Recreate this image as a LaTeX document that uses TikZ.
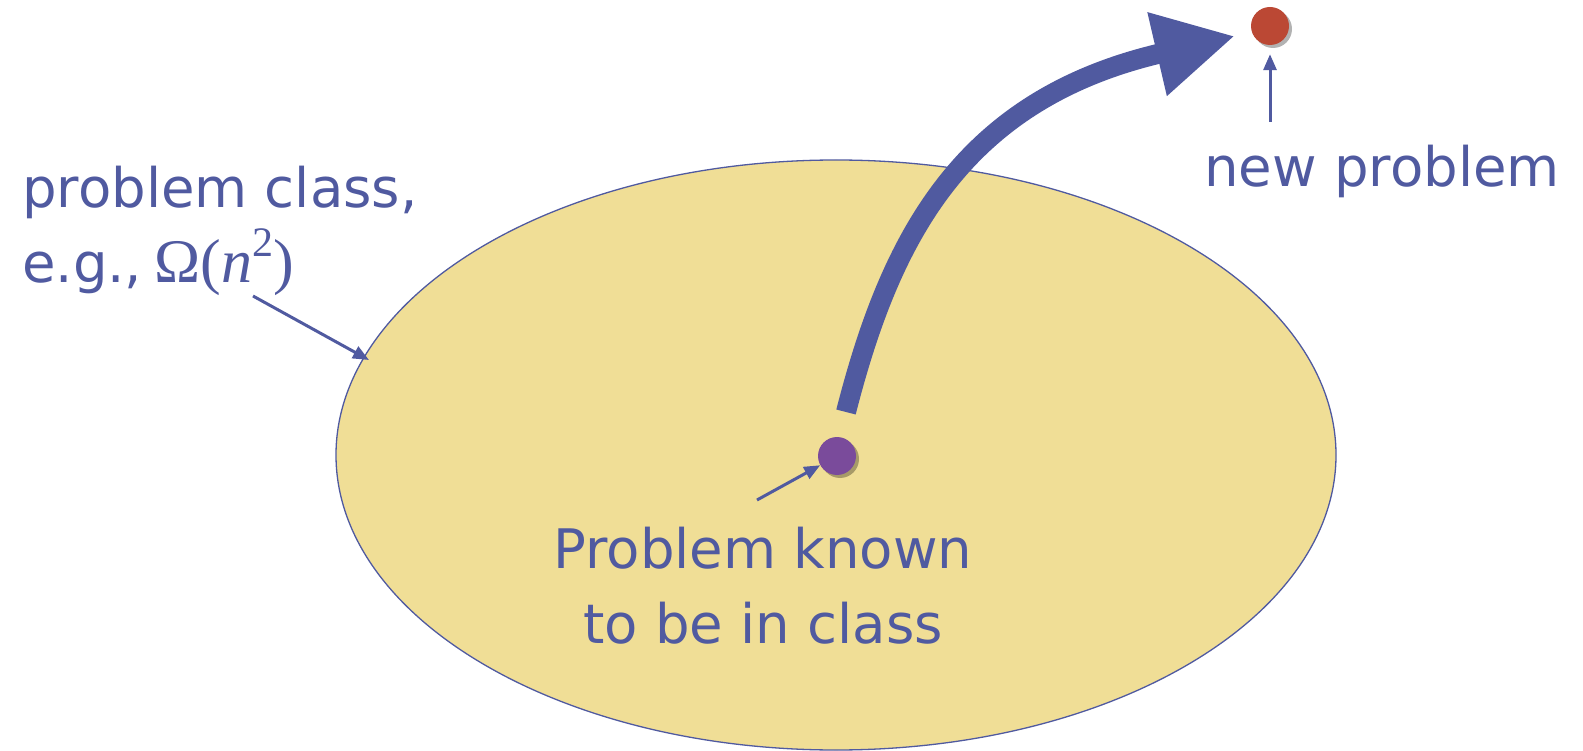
\documentclass[tikz,border=0pt]{standalone}
\usepackage{fontspec}
\setmainfont{DejaVu Sans}
\newfontfamily\serifmath{Liberation Serif}
\usetikzlibrary{arrows.meta,shadows,shapes.geometric}
\definecolor{myblue}{RGB}{80,90,160}
\definecolor{ellfill}{RGB}{240,222,150}
\definecolor{reddot}{RGB}{187,72,52}
\definecolor{purpledot}{RGB}{122,75,155}
\begin{document}
\begin{tikzpicture}[x=1pt,y=-1pt,
 lbl/.style={text=myblue, font=\fontsize{54.5}{75}\selectfont, inner sep=0, align=center},
 ptr/.style={draw=myblue, line width=3pt, -{Triangle[length=16pt,width=13pt]}},
 dot/.style={circle, minimum size=38pt, inner sep=0, drop shadow={shadow xshift=3pt, shadow yshift=-3pt, opacity=0.3, fill=black}},
 big/.style={draw=myblue, line width=20pt, -{Triangle[length=80pt,width=80pt]}}]
\useasboundingbox (0,0) rectangle (1583,751);
\node[ellipse, draw=myblue, fill=ellfill, line width=1.3pt, minimum width=1000pt, minimum height=590pt, inner sep=0] (cls) at (836,455) {};
\node[dot, fill=purpledot] (known) at (837,456) {};
\node[dot, fill=reddot] (new) at (1270,26) {};
\coordinate (bstart) at (846,412);
\coordinate (btip) at (1235,36);
\draw[big] (bstart) .. controls (890,240) and (960,100) .. (btip);
\node[lbl, anchor=base west, align=left] (pc) at (22,283) {problem class,\\e.g.,\hspace{-5pt} {\serifmath\fontsize{62}{62}\selectfont Ω(\textit{n}\raisebox{26pt}{\fontsize{42}{42}\selectfont 2})}};
\node[lbl, anchor=base] (np) at (1382,187) {new problem};
\node[lbl, anchor=base] (pk) at (763,643) {Problem known\\to be in class};
\coordinate (pcfrom) at (253,296);
\coordinate (pcto) at (369,360);
\draw[ptr] (pcfrom) -- (pcto);
\coordinate (npfrom) at (1270,122);
\draw[ptr, shorten >=9pt] (npfrom) -- (new.south);
\coordinate (pkfrom) at (757,500);
\draw[ptr] (pkfrom) -- (known);
\end{tikzpicture}
\end{document}
